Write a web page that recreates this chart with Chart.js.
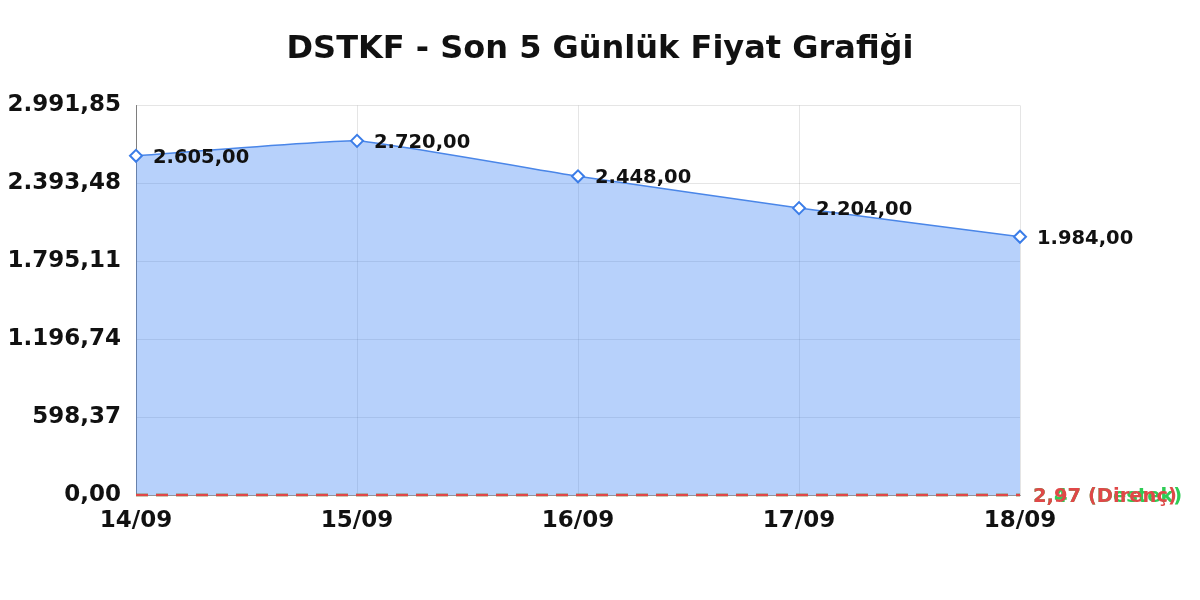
<!DOCTYPE html>
<html lang="tr">
<head>
<meta charset="utf-8">
<title>DSTKF - Son 5 Günlük Fiyat Grafiği</title>
<script src="https://cdn.jsdelivr.net/npm/chart.js@4.4.0/dist/chart.umd.min.js"></script>
<style>
  html, body { margin: 0; padding: 0; background: #fff; }
  #wrap { width: 1200px; height: 600px; }
</style>
</head>
<body>
<div id="wrap"><canvas id="chart"></canvas></div>
<script>
// Chart data
const title = 'DSTKF - Son 5 Günlük Fiyat Grafiği';
const dates = ['14/09', '15/09', '16/09', '17/09', '18/09'];
const prices = [2605, 2720, 2448, 2204, 1984];
const resistance = 2.97;   // Direnç
const support = 2.47;      // Destek
const yTicks = [0, 598.37, 1196.74, 1795.11, 2393.48, 2991.85];

const FONT = "'DejaVu Sans', sans-serif";
const TITLE_SIZE = 32;

// Turkish number format: 2.605,00
function fmt(v) {
  const parts = Math.abs(v).toFixed(2).split('.');
  const intPart = parts[0].replace(/\B(?=(\d{3})+(?!\d))/g, '.');
  return (v < 0 ? '-' : '') + intPart + ',' + parts[1];
}

// Draws the value next to each point, plus the level labels
const valueLabels = {
  id: 'valueLabels',
  afterDatasetsDraw(chart) {
    const ctx = chart.ctx;
    ctx.save();
    ctx.textAlign = 'left';
    ctx.textBaseline = 'middle';
    ctx.font = 'bold 19.5px ' + FONT;
    chart.data.datasets.forEach((ds, i) => {
      const meta = chart.getDatasetMeta(i);
      if (meta.hidden) return;
      if (ds.levelName) {
        const last = meta.data[meta.data.length - 1];
        ctx.fillStyle = ds.borderColor;
        ctx.fillText(fmt(ds.data[ds.data.length - 1]) + ' (' + ds.levelName + ')', last.x + 13, last.y + 2);
      } else {
        ctx.fillStyle = '#111';
        meta.data.forEach((pt, j) => {
          ctx.fillText(fmt(ds.data[j]), pt.x + 17, pt.y + 2);
        });
      }
    });
    ctx.restore();
  }
};

// The built-in title only reserves space; this centres it on the whole canvas
const centredTitle = {
  id: 'centredTitle',
  afterDraw(chart) {
    const block = chart.titleBlock;
    if (!block) return;
    const ctx = chart.ctx;
    ctx.save();
    ctx.font = 'bold ' + TITLE_SIZE + 'px ' + FONT;
    ctx.fillStyle = '#111';
    ctx.textAlign = 'center';
    ctx.textBaseline = 'middle';
    ctx.fillText(title, chart.width / 2, block.top + 10 + TITLE_SIZE * 0.6 + 1);
    ctx.restore();
  }
};

new Chart(document.getElementById('chart'), {
  type: 'line',
  data: {
    labels: dates,
    datasets: [
      {
        label: 'Destek',
        levelName: 'Destek',
        data: dates.map(() => support),
        borderColor: '#2ecc55',
        borderWidth: 2.5,
        borderDash: [12, 8],
        pointRadius: 0,
        fill: false,
        clip: false,
        order: 2
      },
      {
        label: 'Direnç',
        levelName: 'Direnç',
        data: dates.map(() => resistance),
        borderColor: '#e04848',
        borderWidth: 2.5,
        borderDash: [12, 8],
        pointRadius: 0,
        fill: false,
        clip: false,
        order: 1
      },
      {
        label: 'Fiyat',
        data: prices,
        borderColor: '#4a86e8',
        backgroundColor: 'rgba(66, 133, 244, 0.38)',
        borderWidth: 1.5,
        fill: 'origin',
        tension: 0.1,
        pointStyle: 'rectRot',
        pointRadius: 6,
        pointBorderWidth: 2,
        pointBorderColor: '#3b7de8',
        pointBackgroundColor: '#ffffff',
        order: 3
      }
    ]
  },
  options: {
    responsive: true,
    maintainAspectRatio: false,
    animation: false,
    layout: { padding: { top: 19, left: 4, right: 180, bottom: 53 } },
    plugins: {
      legend: { display: false },
      tooltip: { enabled: false },
      title: {
        display: true,
        text: title,
        color: 'rgba(0,0,0,0)',
        font: { family: FONT, size: TITLE_SIZE, weight: 'bold' },
        padding: { top: 10, bottom: 38 }
      }
    },
    scales: {
      x: {
        offset: false,
        grid: { color: 'rgba(0,0,0,0.1)', drawTicks: false },
        border: { color: 'rgba(0,0,0,0.35)' },
        ticks: {
          color: '#111',
          padding: 12,
          maxRotation: 0,
          font: { family: FONT, size: 23, weight: 'bold' }
        }
      },
      y: {
        min: 0,
        max: yTicks[yTicks.length - 1],
        afterBuildTicks(axis) {
          axis.ticks = yTicks.map(v => ({ value: v }));
        },
        afterFit(axis) {
          axis.width = 132;
        },
        grid: { color: 'rgba(0,0,0,0.1)', drawTicks: false },
        border: { color: 'rgba(0,0,0,0.45)' },
        ticks: {
          color: '#111',
          padding: 15,
          font: { family: FONT, size: 23, weight: 'bold' },
          callback: v => fmt(v)
        }
      }
    }
  },
  plugins: [valueLabels, centredTitle]
});
</script>
</body>
</html>
